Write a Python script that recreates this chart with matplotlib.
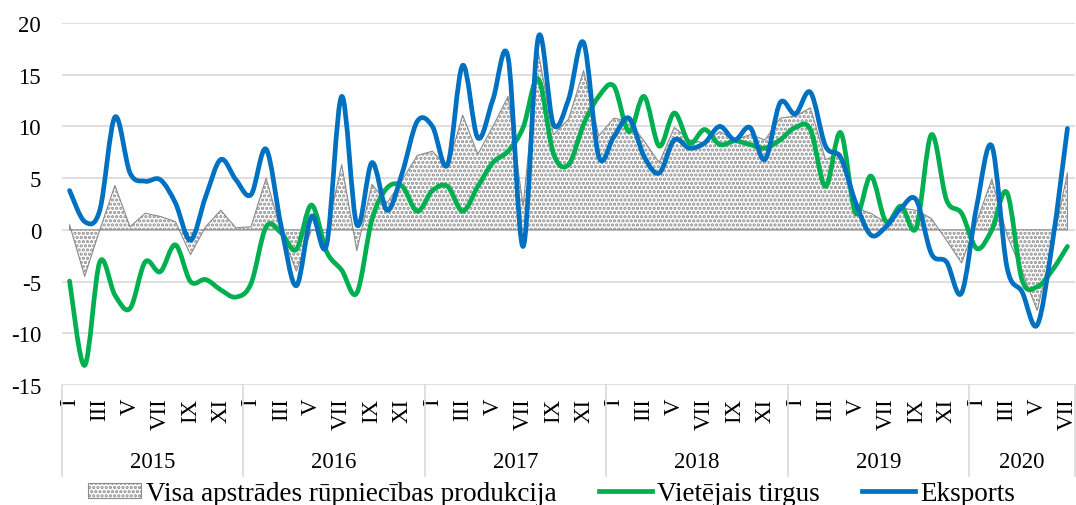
import matplotlib
matplotlib.use("Agg")
import matplotlib.pyplot as plt
import matplotlib.transforms as mtransforms
from matplotlib.path import Path
from matplotlib.patches import PathPatch
from matplotlib.lines import Line2D
import numpy as np

# months Jan 2015 .. Jul 2020
month_labels = ["I", "", "III", "", "V", "", "VII", "", "IX", "", "XI", ""]
years = ["2015", "2016", "2017", "2018", "2019", "2020"]
months_per_year = [12, 12, 12, 12, 12, 7]

total = [0.5, -4.5, 0.0, 4.3, 0.3, 1.6, 1.3, 0.8, -2.4, 0.3, 1.9, 0.2,
         0.3, 5.0, -0.2, -4.0, 0.0, -0.3, 6.3, -2.0, 4.4, 2.6, 4.8, 7.2,
         7.6, 6.0, 11.1, 7.3, 10.0, 12.9, 2.3, 17.2, 9.2, 10.7, 15.4, 9.1,
         10.8, 10.5, 8.6, 6.5, 9.9, 8.7, 8.4, 9.5, 8.7, 9.2, 8.7, 10.8,
         11.0, 11.8, 6.8, 7.4, 2.1, 1.6, 0.7, 2.1, 1.9, 1.1, -1.0, -3.2,
         0.8, 4.9, -0.5, -4.0, -7.8, -1.5, 5.5]

domestic = [-4.95, -13.1, -3.1, -6.3, -7.6, -3.1, -4.05, -1.45, -5.0, -4.8, -5.8, -6.5,
            -5.2, 0.3, -0.3, -1.9, 2.4, -2.1, -3.9, -6.1, 1.0, 4.05, 4.2, 1.8,
            3.8, 4.2, 1.8, 4.2, 6.5, 7.6, 9.9, 14.6, 7.4, 6.3, 10.2, 12.9,
            13.9, 9.5, 12.9, 8.1, 11.3, 8.4, 9.7, 8.25, 8.6, 8.25, 7.9, 8.7,
            9.9, 9.7, 4.2, 9.4, 1.6, 5.2, 0.8, 2.3, 0.2, 9.2, 2.9, 1.6,
            -1.8, 0.0, 3.6, -4.85, -5.5, -3.9, -1.6]

export = [3.8, 0.8, 1.9, 10.9, 5.5, 4.7, 4.85, 2.6, -1.0, 3.2, 6.8, 4.85,
          3.4, 7.8, 0.3, -5.4, 1.3, -1.45, 12.9, 0.5, 6.5, 1.9, 5.5, 10.5,
          10.0, 6.3, 15.9, 8.9, 12.6, 16.7, -1.6, 18.6, 10.2, 12.6, 18.1, 7.1,
          9.0, 10.8, 7.1, 5.5, 8.7, 7.9, 8.4, 10.0, 8.7, 9.9, 6.8, 12.3,
          11.2, 13.3, 8.1, 7.0, 2.6, -0.5, 0.3, 2.1, 2.9, -2.3, -3.1, -6.1,
          2.3, 8.1, -3.6, -6.0, -9.2, -1.3, 9.8]

GREEN = "#00B050"
BLUE = "#0070C0"
GRID = "#D9D9D9"
FONT = "Liberation Serif"
FS = 16.5
LEG_FS = 19.5

plt.rcParams["font.family"] = FONT
plt.rcParams["axes.unicode_minus"] = False
plt.rcParams["hatch.linewidth"] = 1.6


def smooth_path(y):
    """Excel-like smoothed line as cubic Bezier path."""
    y = np.asarray(y, dtype=float)
    x = np.arange(len(y), dtype=float)
    pts = np.column_stack([x, y])
    ext = np.vstack([pts[0], pts, pts[-1]])
    verts = [pts[0]]
    codes = [Path.MOVETO]
    for i in range(len(pts) - 1):
        p0, p1, p2, p3 = ext[i], ext[i + 1], ext[i + 2], ext[i + 3]
        c1 = p1 + (p2 - p0) / 6.0
        c2 = p2 - (p3 - p1) / 6.0
        verts += [c1, c2, p2]
        codes += [Path.CURVE4] * 3
    return Path(verts, codes)


n = len(total)
x = np.arange(n)

fig = plt.figure(figsize=(10.76, 5.06), dpi=100)
ax = fig.add_axes([62 / 1076, 1 - 386 / 506, (1075 - 62) / 1076, (386 - 24) / 506])
ax.set_xlim(-0.5, n - 0.5)
ax.set_ylim(-15, 20)

area = ax.fill_between(x, total, 0, facecolor="white", edgecolor="#8C8C8C",
                       hatch="....", linewidth=0.8, zorder=2)

for series, color in [(domestic, GREEN), (export, BLUE)]:
    ax.add_patch(PathPatch(smooth_path(series), fill=False, edgecolor=color,
                           linewidth=3.4, capstyle="round", joinstyle="round", zorder=3))

ax.set_yticks(range(-15, 21, 5))
ax.grid(axis="y", color=GRID, linewidth=1.2, zorder=0)
ax.set_axisbelow(True)
for s in ax.spines.values():
    s.set_visible(False)

labels = []
for cnt in months_per_year:
    labels += month_labels[:cnt]
ticks = [i for i, l in enumerate(labels) if l]
ax.set_xticks(ticks)
ax.set_xticklabels([labels[i] for i in ticks], rotation=90, va="top", ha="center")
ax.tick_params(axis="x", length=0, pad=9, labelsize=FS)
ax.tick_params(axis="y", length=0, pad=15, labelsize=FS)

trans = mtransforms.blended_transform_factory(ax.transData, ax.transAxes)
bounds = [-0.5]
for cnt in months_per_year:
    bounds.append(bounds[-1] + cnt)
for b in bounds:
    ax.plot([b, b], [0, -0.251], transform=trans, color=GRID, linewidth=1.2, clip_on=False)
for yr, a, b in zip(years, bounds[:-1], bounds[1:]):
    ax.text((a + b) / 2, -0.21, yr, transform=trans, ha="center", va="center", fontsize=FS)

handles = [area,
           Line2D([], [], color=GREEN, linewidth=3.4),
           Line2D([], [], color=BLUE, linewidth=3.4)]
names = ["Visa apstrādes rūpniecības produkcija", "Vietējais tirgus", "Eksports"]
fig.legend(handles, names, loc="center", bbox_to_anchor=(0.5125, 0.023), ncol=3,
           frameon=False, fontsize=LEG_FS, handlelength=1.95, handleheight=0.5,
           handletextpad=0.2, columnspacing=1.55, borderpad=0)

fig.savefig("out.png", dpi=100)
